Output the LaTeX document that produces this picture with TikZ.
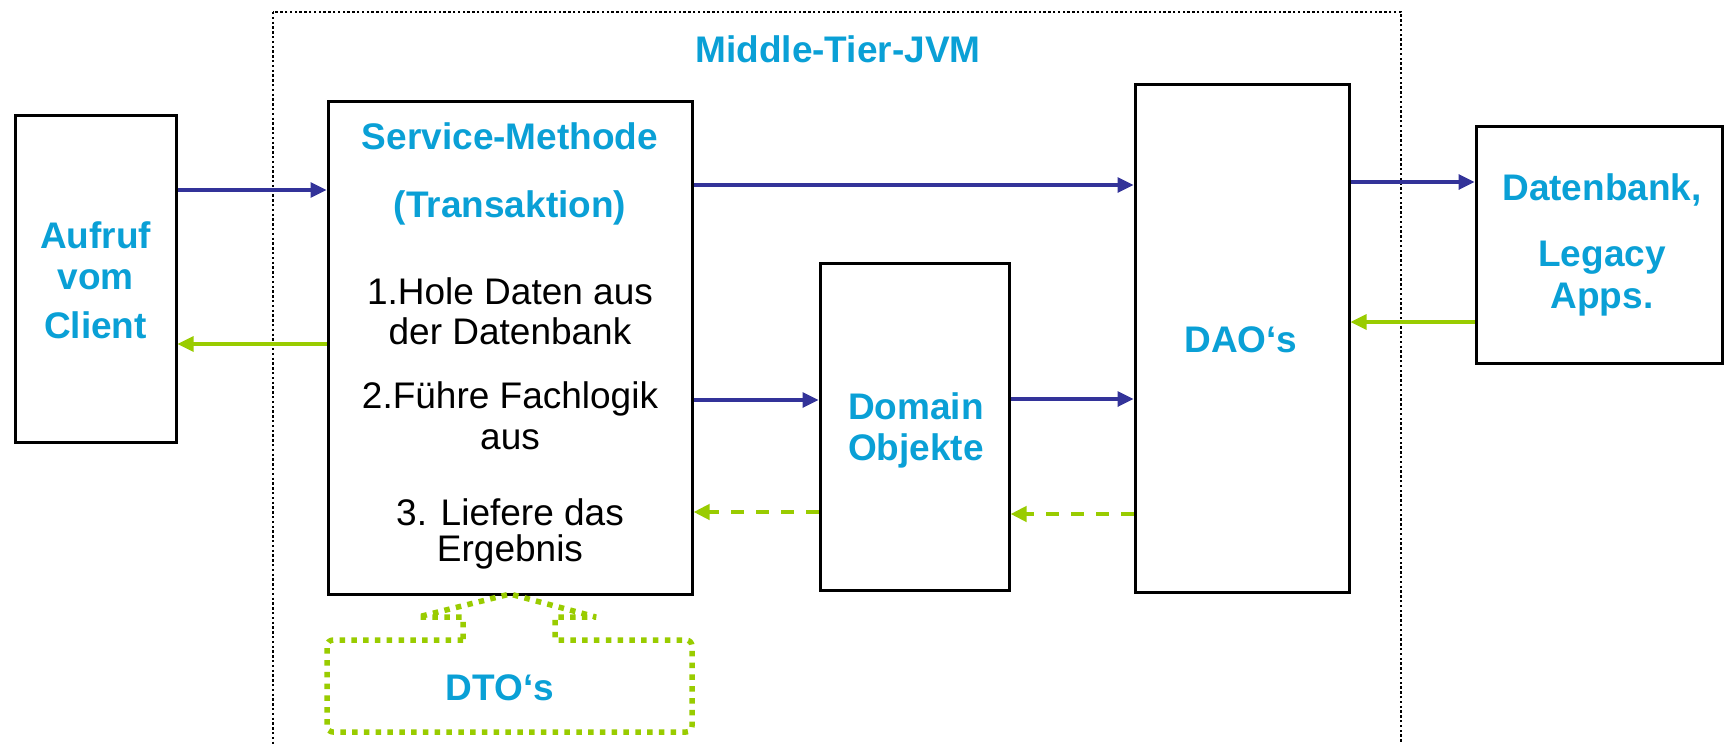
\documentclass[tikz,border=0pt]{standalone}
\usepackage{fontspec}
\setmainfont{Liberation Sans}
\usetikzlibrary{arrows.meta}
\definecolor{tblue}{RGB}{10,160,214}
\definecolor{adark}{RGB}{51,51,153}
\definecolor{agreen}{RGB}{153,204,0}
\tikzset{
  box/.style={draw=black, line width=3pt, inner sep=0pt, fill=white},
  btxt/.style={text=tblue, font=\fontsize{37}{44}\selectfont\bfseries, inner sep=0pt, anchor=center},
  ntxt/.style={text=black, font=\fontsize{37}{44}\selectfont, inner sep=0pt, anchor=center},
  bluearr/.style={draw=adark, line width=3.3pt, -{Triangle[length=16pt,width=15pt]}},
  greenarr/.style={draw=agreen, line width=3.3pt, -{Triangle[length=16pt,width=15pt]}},
  greendash/.style={draw=agreen, line width=4pt, dash pattern=on 13pt off 12pt, -{Triangle[length=16pt,width=15pt]}},
  tierborder/.style={draw=black, line width=2.6pt, dash pattern=on 2.4pt off 2.4pt},
  dtoborder/.style={draw=agreen, line width=5.5pt, dash pattern=on 5.5pt off 6.3pt, line join=bevel},
}
\begin{document}
\begin{tikzpicture}[x=1pt,y=-1pt]
\useasboundingbox (0,0) rectangle (1724,744);
\fill[white] (0,0) rectangle (1724,744);
% middle tier border
\draw[tierborder] (273,12) rectangle (1401,780);
\node[btxt] (title) at (838,49) {Middle-Tier-JVM};
% boxes
\node[box, minimum width=161pt, minimum height=327pt] (cl) at (95.5,278.5) {};
\node[box, minimum width=364pt, minimum height=493pt] (svc) at (510,347.5) {};
\node[box, minimum width=189pt, minimum height=327pt] (dom) at (914.5,426.5) {};
\node[box, minimum width=214pt, minimum height=508pt] (dao) at (1242,338) {};
\node[box, minimum width=246pt, minimum height=237pt] (db) at (1599,244.5) {};
% texts
\node[btxt] (t1) at (95.5,235) {Aufruf};
\node[btxt] (t2) at (95.5,280) {vom};
\node[btxt] (t3) at (95.5,325) {Client};
\node[btxt] (s1) at (510,136) {Service-Methode};
\node[btxt] (s2) at (510,208) {(Transaktion)};
\node[ntxt] (s3) at (510,291) {1.Hole Daten aus};
\node[ntxt] (s4) at (510,331) {der Datenbank};
\node[ntxt] (s5) at (510,399) {2.Führe Fachlogik};
\node[ntxt] (s6) at (510,440) {aus};
\node[ntxt] (s7) at (510,512) {3. Liefere das};
\node[ntxt] (s8) at (510,552) {Ergebnis};
\node[btxt] (d1) at (916,406) {Domain};
\node[btxt] (d2) at (916,451) {Objekte};
\node[btxt] (a1) at (1241,340) {DAO‘s};
\node[btxt] (b1) at (1602,190) {Datenbank,};
\node[btxt] (b2) at (1602,258) {Legacy};
\node[btxt] (b3) at (1602,300) {Apps.};
% arrows
\draw[bluearr] (cl.east |- 0,190) -- (svc.west |- 0,190);
\draw[greenarr] (svc.west |- 0,344) -- (cl.east |- 0,344);
\draw[bluearr] (svc.east |- 0,185) -- (dao.west |- 0,185);
\draw[bluearr] (svc.east |- 0,400) -- (dom.west |- 0,400);
\draw[bluearr] (dom.east |- 0,399) -- (dao.west |- 0,399);
\draw[bluearr] (dao.east |- 0,182) -- (db.west |- 0,182);
\draw[greenarr] (db.west |- 0,322) -- (dao.east |- 0,322);
\draw[greendash] (dom.west |- 0,512) -- (svc.east |- 0,512);
\draw[greendash] (dao.west |- 0,514) -- (dom.east |- 0,514);
% DTO callout
\draw[dtoborder] (463,640) [rounded corners=6pt] -- (327,640) -- (327,732) -- (692,732) -- (692,640) [sharp corners] -- (555,640) -- (555,617) -- (596,617) -- (510,594) -- (418,617) -- (463,617) -- cycle;
\node[btxt] (dto) at (500,688) {DTO‘s};
\end{tikzpicture}
\end{document}
